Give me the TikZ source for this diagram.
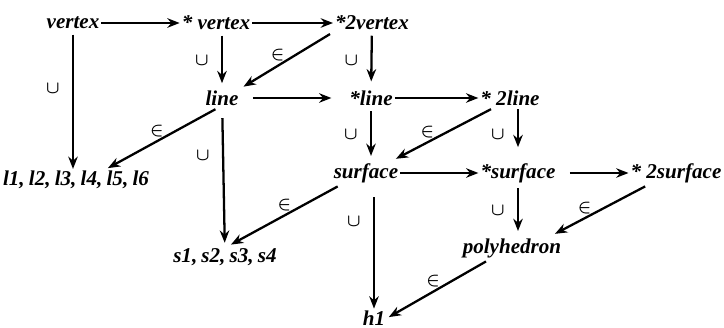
\documentclass[tikz,border=0pt]{standalone}
\usepackage{fontspec}
\setmainfont{Liberation Serif}
\usetikzlibrary{arrows.meta, positioning}

\begin{document}
\begin{tikzpicture}[
    x=0.02cm, y=-0.02cm,
    entity/.style={inner sep=1pt, font=\bfseries\itshape\fontsize{12}{14}\selectfont},
    tight/.style={entity, execute at begin node={\spaceskip=0.2em}},
    lbl/.style={inner sep=1pt, font=\fontsize{10}{10}\selectfont\boldmath},
    arrow/.style={line width=1.3pt,->,>={Stealth[length=7pt,width=5.4pt]}},
]
    \useasboundingbox (0,0) rectangle (724,328);

    % top row
    \node (v) [entity] at (73,23) {vertex};
    \node (sv) [entity] at (216,23) {* vertex};
    \node (ssv) [entity] at (372,23) {*2vertex};

    % lines
    \node (ln) [entity] at (222,98) {line};
    \node (sln) [entity] at (371,98) {*line};
    \node (ssln) [entity] at (510,98) {* 2line};
    \node (ls) [tight] at (76,180) {l1, l2, l3, l4, l5, l6};

    % surfaces
    \node (sf) [entity] at (366,173) {surface};
    \node (ssf) [entity] at (518,173) {*surface};
    \node (sssf) [entity] at (676,173) {* 2surface};
    \node (ss) [tight] at (225,257) {s1, s2, s3, s4};

    % solids
    \node (poly) [entity] at (512,248) {polyhedron};
    \node (h) [entity] at (374,318) {h1};

    % horizontal
    \draw [arrow] (v) -- (sv);
    \draw [arrow] (sv) -- (ssv);
    \draw [arrow, shorten <=7pt, shorten >=9pt] (ln) -- (sln);
    \draw [arrow] (sln) -- (ssln);
    \draw [arrow] (sf) -- (ssf);
    \draw [arrow, shorten <=7pt] (ssf) -- (sssf);

    % vertical
    \draw [arrow, shorten <=2pt] (v) -- node[lbl, left=6pt, pos=0.42] {$\cup$} (v |- ls.north);
    \draw [arrow, shorten <=2pt, shorten >=3pt] (ln |- sv.south) -- node[lbl, left=6pt] {$\cup$} (ln);
    \draw [arrow, shorten <=2pt, shorten >=4pt] (ssv) -- node[lbl, left=6pt] {$\cup$} (sln);
    \draw [arrow, shorten <=6pt, shorten >=2pt] (ln) -- node[lbl, left=6pt, pos=0.35] {$\cup$} (ss);
    \draw [arrow, shorten <=2pt, shorten >=3pt] (sln) -- node[lbl, left=6pt] {$\cup$} (sln |- sf.north);
    \draw [arrow, shorten <=1pt, shorten >=8pt] (ssf |- ssln.south) -- node[lbl, left=6pt] {$\cup$} (ssf);
    \draw [arrow, shorten <=2pt, shorten >=3pt] (ssf) -- node[lbl, left=6pt] {$\cup$} (ssf |- poly.north);
    \draw [arrow, shorten <=7pt] (h |- sf.south) -- node[lbl, left=6pt, pos=0.3] {$\cup$} (h);

    % diagonal
    \draw [arrow, shorten <=2pt, shorten >=2pt] (ssv.south west) -- node[lbl, above=1pt, pos=0.6] {$\in$} (ln.north east);
    \draw [arrow, shorten <=2pt, shorten >=1pt] (ln.250) -- node[lbl, above=1pt, pos=0.55] {$\in$} (ls.20);
    \draw [arrow, shorten <=2pt, shorten >=3pt] (ssln.211) -- node[lbl, above=1pt, pos=0.65] {$\in$} (sf.25);
    \draw [arrow, shorten <=2pt, shorten >=2pt] (sf.205) -- node[lbl, above=1pt, pos=0.5] {$\in$} (ss.75);
    \draw [arrow, shorten <=2pt, shorten >=3pt] (sssf.203) -- node[lbl, above=1pt, pos=0.65] {$\in$} (poly.17);
    \draw [arrow, shorten <=2pt, shorten >=1pt] (poly.207) -- node[lbl, above=1pt, pos=0.55] {$\in$} (h.east);

\end{tikzpicture}
\end{document}
